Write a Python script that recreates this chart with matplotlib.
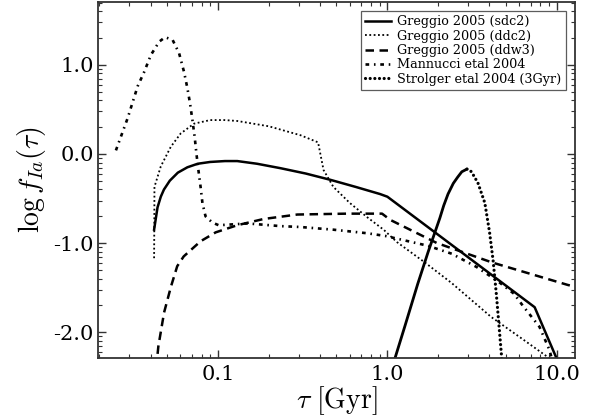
import numpy as np
import matplotlib
matplotlib.use("Agg")
import matplotlib.pyplot as plt
from matplotlib.ticker import FixedLocator, FixedFormatter, NullFormatter

plt.rcParams['font.family'] = ['DejaVu Serif']
plt.rcParams['mathtext.fontset'] = 'cm'
plt.rcParams['axes.unicode_minus'] = False

# Greggio 2005, single degenerate (sdc2)
sdc2_tau = [0.042, 0.044, 0.046, 0.048, 0.052, 0.058, 0.066, 0.076, 0.09, 0.11,
            0.13, 0.17, 0.234, 0.33, 0.46, 0.65, 0.905, 1.0, 3.0, 7.4, 10.0]
sdc2_log = [-0.85, -0.60, -0.48, -0.40, -0.30, -0.21, -0.15, -0.11, -0.09, -0.08,
            -0.08, -0.11, -0.16, -0.22, -0.29, -0.37, -0.45, -0.48, -1.16, -1.72, -2.30]

# Greggio 2005, double degenerate close (ddc2)
ddc2_tau = [0.0420, 0.0421, 0.0422, 0.046, 0.0527, 0.0603, 0.0723, 0.09, 0.11, 0.13,
            0.2, 0.307, 0.39, 0.42, 0.48, 0.60, 0.76, 0.95, 1.14, 1.67, 2.4, 4.1,
            6.3, 8.7, 9.3]
ddc2_log = [-1.17, -0.85, -0.37, -0.14, 0.08, 0.23, 0.34, 0.38, 0.38, 0.37,
            0.31, 0.21, 0.13, -0.18, -0.37, -0.55, -0.71, -0.85, -0.99, -1.22, -1.45, -1.83,
            -2.08, -2.27, -2.33]

# Greggio 2005, double degenerate wide (ddw3)
ddw3_tau = [0.0432, 0.0445, 0.0481, 0.0528, 0.0575, 0.0628, 0.079, 0.097, 0.130,
            0.186, 0.294, 0.58, 0.93, 1.04, 1.96, 4.18, 11.6, 12.8]
ddw3_log = [-2.40, -2.16, -1.78, -1.49, -1.26, -1.15, -0.98, -0.88, -0.80,
            -0.73, -0.68, -0.67, -0.67, -0.74, -1.00, -1.22, -1.47, -1.49]

# Mannucci et al. 2004
mann_tau = [0.025, 0.0293, 0.0336, 0.0367, 0.0402, 0.045, 0.0488, 0.054, 0.059, 0.0631,
            0.066, 0.0684, 0.0707, 0.0729, 0.0746, 0.0762, 0.079, 0.081, 0.0845, 0.0927,
            0.101, 0.15, 0.234, 0.307, 0.48, 0.76, 0.97, 1.73, 2.4, 3.37, 4.5, 5.6, 6.28,
            7.9, 9.05, 9.5]
mann_log = [0.04, 0.40, 0.76, 0.92, 1.11, 1.26, 1.31, 1.28, 1.13, 0.92,
            0.74, 0.57, 0.38, 0.19, 0.01, -0.14, -0.37, -0.55, -0.70, -0.77,
            -0.80, -0.78, -0.81, -0.82, -0.85, -0.89, -0.92, -1.03, -1.12, -1.27, -1.43, -1.57, -1.70,
            -1.94, -2.20, -2.35]

# Strolger et al. 2004, 3 Gyr delay
strol_tau = [1.08, 1.11, 1.27, 1.51, 1.74, 2.04, 2.15, 2.28, 2.45, 2.6, 2.75, 2.95,
             3.1, 3.25, 3.43, 3.76, 4.01, 4.21, 4.4, 4.56, 4.7, 4.76]
strol_log = [-2.45, -2.29, -1.93, -1.46, -1.10, -0.72, -0.58, -0.45, -0.33, -0.26, -0.20, -0.17,
             -0.19, -0.25, -0.33, -0.55, -0.88, -1.20, -1.58, -1.93, -2.23, -2.35]

xticks = [0.1, 1.0, 10.0]
xticklabels = ['0.1', '1.0', '10.0']
yticks = [-2.0, -1.0, 0.0, 1.0]
yticklabels = ['-2.0', '-1.0', '0.0', '1.0']

fig = plt.figure(figsize=(5.98, 4.19), dpi=100)
ax = fig.add_axes([0.1639, 0.1456, 0.7976, 0.8496])
ax.set_xscale('log')

ax.plot(sdc2_tau, sdc2_log, color='k', lw=1.8, ls='-', label='Greggio 2005 (sdc2)')
ax.plot(ddc2_tau, ddc2_log, color='k', lw=1.3, ls=(0, (1.0, 1.4)),
        label='Greggio 2005 (ddc2)')
ax.plot(ddw3_tau, ddw3_log, color='k', lw=1.8, ls=(0, (3.4, 2.2)),
        label='Greggio 2005 (ddw3)')
ax.plot(mann_tau, mann_log, color='k', lw=1.9, ls=(0, (1.4, 1.8, 0.6, 1.8)),
        label='Mannucci etal 2004')

# Strolger curve: densely sampled points merge on the rising side, separate on the fall
ipk = int(np.argmax(strol_log))
ax.plot(strol_tau[:ipk + 1], strol_log[:ipk + 1], color='k', lw=2.0, ls='-',
        solid_capstyle='round', solid_joinstyle='round')
ax.plot(strol_tau[ipk:], strol_log[ipk:], color='k', lw=2.3, ls=(0, (0.01, 1.45)),
        dash_capstyle='round', label='Strolger etal 2004 (3Gyr)')

ax.set_xlim(0.0196, 12.8)
ax.set_ylim(-2.29, 1.705)

ax.xaxis.set_major_locator(FixedLocator(xticks))
ax.xaxis.set_major_formatter(FixedFormatter(xticklabels))
xminor = [k * 10.0 ** n for n in range(-2, 2) for k in range(2, 10)]
ax.xaxis.set_minor_locator(FixedLocator(xminor))
ax.xaxis.set_minor_formatter(NullFormatter())

ax.yaxis.set_major_locator(FixedLocator(yticks))
ax.yaxis.set_major_formatter(FixedFormatter(yticklabels))
yminor = [n + np.log10(k) for n in range(-3, 2) for k in range(2, 10)]
ax.yaxis.set_minor_locator(FixedLocator(yminor))
ax.yaxis.set_minor_formatter(NullFormatter())

ax.tick_params(which='both', direction='in', top=True, right=True, colors='#333333',
               labelcolor='k', labelsize=15)
ax.tick_params(which='major', length=6, width=1.0)
ax.tick_params(which='minor', length=3, width=0.8)
ax.tick_params(axis='y', pad=3)
ax.tick_params(axis='x', pad=5)
for s in ax.spines.values():
    s.set_linewidth(1.3)
    s.set_color('#333333')

ax.set_xlabel(r'$\tau\ [\mathrm{Gyr}]$', fontsize=20, labelpad=0)
ax.set_ylabel(r'$\log f_{Ia}(\tau)$', fontsize=20, labelpad=4)

leg = ax.legend(loc='upper right', fontsize=9.2, frameon=True, fancybox=False,
                handlelength=2.0, borderpad=0.35, labelspacing=0.1,
                borderaxespad=0.7, handletextpad=0.5)
leg.get_frame().set_edgecolor('#333333')
leg.get_frame().set_linewidth(0.9)

fig.savefig('out.png', dpi=100)
